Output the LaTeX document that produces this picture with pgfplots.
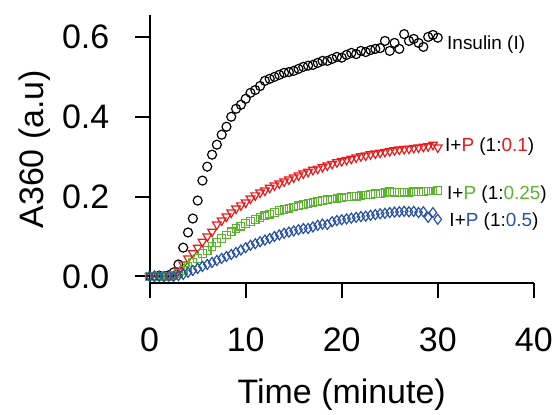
\documentclass[border=0pt]{standalone}
\usepackage{pgfplots}
\pgfplotsset{compat=1.18}
\usepackage{fontspec}
\setmainfont{Liberation Sans}
\definecolor{cred}{RGB}{235,25,25}
\definecolor{cgreen}{RGB}{90,180,45}
\definecolor{cblue}{RGB}{40,80,170}
\begin{document}
\begin{tikzpicture}
\begin{axis}[
  scale only axis,
  width=385pt, height=269pt,
  xmin=0, xmax=40, ymin=-0.0175, ymax=0.655,
  axis x line*=bottom, axis y line*=left,
  axis line style={line width=2.2pt, -},
  xtick={0,10,20,30,40}, ytick={0,0.2,0.4,0.6},
  tick align=outside,
  major tick length=15pt,
  tick style={line width=2pt, black},
  /pgf/number format/assume math mode=true,
  yticklabel style={/pgf/number format/fixed, /pgf/number format/fixed zerofill, /pgf/number format/precision=1, xshift=-22pt},
  ticklabel style={font=\fontsize{34}{38}\selectfont},
  xticklabel style={yshift=-26pt},
  xlabel={Time (minute)},
  ylabel={A360 (a.u)},
  label style={font=\fontsize{34}{38}\selectfont},
  xlabel style={at={(axis description cs:0.5,-0.416)}, anchor=center},
  ylabel style={at={(axis description cs:-0.299,0.5)}, anchor=center},
  clip=false,
]
\addplot[only marks, mark=o, mark size=4.5pt, mark options={line width=1.2pt}, black] coordinates {
(0,0.0)(0.5,0.0)(1,0.002)(1.5,0.0)(2,0.003)(2.5,0.01)(3,0.03)(3.5,0.072)(4,0.11)(4.5,0.145)
(5,0.19)(5.5,0.24)(6,0.275)(6.5,0.305)(7,0.33)(7.5,0.355)(8,0.375)(8.5,0.40)(9,0.42)(9.5,0.43)
(10,0.445)(10.5,0.46)(11,0.467)(11.5,0.477)(12,0.49)(12.5,0.495)(13,0.50)(13.5,0.505)(14,0.51)(14.5,0.512)
(15,0.515)(15.5,0.52)(16,0.525)(16.5,0.528)(17,0.53)(17.5,0.535)(18,0.54)(18.5,0.54)(19,0.545)(19.5,0.55)
(20,0.548)(20.5,0.555)(21,0.56)(21.5,0.557)(22,0.565)(22.5,0.562)(23,0.567)(23.5,0.57)(24,0.572)(24.5,0.59)
(25,0.565)(25.5,0.585)(26,0.57)(26.5,0.607)(27,0.59)(27.5,0.595)(28,0.585)(28.5,0.575)(29,0.6)(29.5,0.605)(30,0.598)
};
\addplot[only marks, mark=triangle, mark options={rotate=180, line width=1.2pt}, mark size=5pt, cred] coordinates {
(0,0.0)(0.5,0.0)(1,0.001)(1.5,0.0)(2,0.002)(2.5,0.005)(3,0.015)(3.5,0.03)(4,0.045)(4.5,0.058)
(5,0.072)(5.5,0.087)(6,0.10)(6.5,0.112)(7,0.13)(7.5,0.14)(8,0.15)(8.5,0.16)(9,0.17)(9.5,0.178)
(10,0.185)(10.5,0.195)(11,0.203)(11.5,0.21)(12,0.215)(12.5,0.222)(13,0.228)(13.5,0.233)(14,0.238)(14.5,0.243)
(15,0.248)(15.5,0.253)(16,0.258)(16.5,0.262)(17,0.267)(17.5,0.27)(18,0.274)(18.5,0.278)(19,0.282)(19.5,0.286)
(20,0.289)(20.5,0.292)(21,0.295)(21.5,0.298)(22,0.301)(22.5,0.303)(23,0.306)(23.5,0.308)(24,0.31)(24.5,0.312)
(25,0.314)(25.5,0.316)(26,0.318)(26.5,0.319)(27,0.32)(27.5,0.322)(28,0.323)(28.5,0.325)(29,0.326)(29.5,0.33)(30,0.323)
};
\addplot[only marks, mark=square, mark size=3.8pt, mark options={line width=1.2pt}, cgreen] coordinates {
(0,0.0)(0.5,0.0)(1,0.0)(1.5,0.001)(2,0.0)(2.5,0.002)(3,0.008)(3.5,0.015)(4,0.025)(4.5,0.035)
(5,0.045)(5.5,0.057)(6,0.065)(6.5,0.075)(7,0.085)(7.5,0.095)(8,0.104)(8.5,0.112)(9,0.12)(9.5,0.126)
(10,0.133)(10.5,0.138)(11,0.143)(11.5,0.148)(12,0.152)(12.5,0.156)(13,0.16)(13.5,0.165)(14,0.168)(14.5,0.171)
(15,0.174)(15.5,0.177)(16,0.18)(16.5,0.183)(17,0.186)(17.5,0.188)(18,0.19)(18.5,0.192)(19,0.194)(19.5,0.196)
(20,0.197)(20.5,0.199)(21,0.2)(21.5,0.201)(22,0.203)(22.5,0.204)(23,0.205)(23.5,0.207)(24,0.208)(24.5,0.21)
(25,0.212)(25.5,0.211)(26,0.21)(26.5,0.211)(27,0.211)(27.5,0.212)(28,0.212)(28.5,0.213)(29,0.214)(29.5,0.214)(30,0.215)
};
\addplot[only marks, mark=diamond, mark size=5pt, mark options={line width=1.2pt}, cblue] coordinates {
(0,0.0)(0.5,0.001)(1,0.0)(1.5,0.0)(2,0.001)(2.5,0.0)(3,0.002)(3.5,0.005)(4,0.01)(4.5,0.015)
(5,0.02)(5.5,0.025)(6,0.03)(6.5,0.035)(7,0.04)(7.5,0.045)(8,0.05)(8.5,0.055)(9,0.06)(9.5,0.066)
(10,0.072)(10.5,0.078)(11,0.082)(11.5,0.087)(12,0.091)(12.5,0.095)(13,0.1)(13.5,0.104)(14,0.108)(14.5,0.111)
(15,0.114)(15.5,0.117)(16,0.12)(16.5,0.12)(17,0.124)(17.5,0.128)(18,0.131)(18.5,0.13)(19,0.137)(19.5,0.14)
(20,0.142)(20.5,0.144)(21,0.146)(21.5,0.148)(22,0.15)(22.5,0.151)(23,0.153)(23.5,0.155)(24,0.157)(24.5,0.158)
(25,0.16)(25.5,0.161)(26,0.162)(26.5,0.163)(27,0.162)(27.5,0.163)(28,0.16)(28.5,0.162)(29,0.148)(29.5,0.16)(30,0.143)
};
\node[anchor=west, font=\fontsize{19}{22}\selectfont, inner sep=0pt] at (axis cs:30.96,0.58) {Insulin (I)};
\node[anchor=west, font=\fontsize{19}{22}\selectfont, inner sep=0pt] at (axis cs:30.75,0.325) {I+\textcolor{cred}{P} (1:\textcolor{cred}{0.1})};
\node[anchor=west, font=\fontsize{19}{22}\selectfont, inner sep=0pt] at (axis cs:30.96,0.205) {I+\textcolor{cgreen}{P} (1:\textcolor{cgreen}{0.25})};
\node[anchor=west, font=\fontsize{19}{22}\selectfont, inner sep=0pt] at (axis cs:31.2,0.1375) {I+\textcolor{cblue}{P} (1:\textcolor{cblue}{0.5})};
\path[draw=none] (axis cs:-15.58,-0.3375) rectangle (axis cs:42.18,0.6925);
\end{axis}
\end{tikzpicture}
\end{document}
